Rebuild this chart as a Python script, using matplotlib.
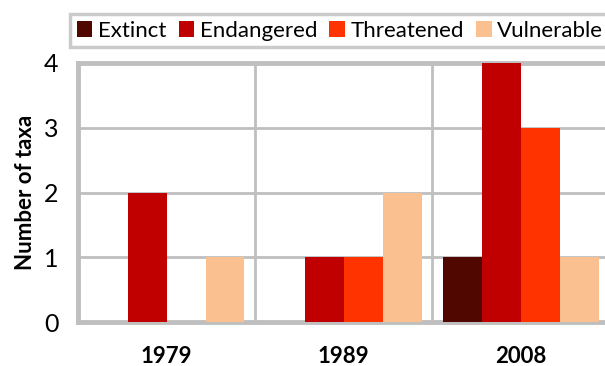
import numpy as np
import matplotlib
matplotlib.use("Agg")
import matplotlib.pyplot as plt

# 데이터
years = ["1979", "1989", "2008"]
categories = ["Extinct", "Endangered", "Threatened", "Vulnerable"]
extinct = [0, 0, 1]
endangered = [2, 1, 4]
threatened = [0, 1, 3]
vulnerable = [1, 2, 1]
colors = ["#4F0700", "#C00000", "#FF3300", "#FAC090"]

plt.rcParams['font.family'] = ['Lato', 'DejaVu Sans']

fig = plt.figure(figsize=(6.05, 3.66), dpi=100)
ax = fig.add_axes([0.129, 0.120, 0.878, 0.708])

x = np.arange(len(years))
width = 0.22
series = [extinct, endangered, threatened, vulnerable]
for i, (vals, name, c) in enumerate(zip(series, categories, colors)):
    ax.bar(x + (i - 1.5) * width, vals, width, color=c, label=name, zorder=3)

ax.set_xlim(-0.5, 2.5)
ax.set_ylim(0, 4)
ax.set_yticks([0, 1, 2, 3, 4])
ax.set_xticks(x)
ax.set_xticklabels(years, fontsize=16, fontweight='bold')
ax.tick_params(axis='x', length=0, pad=17)
ax.tick_params(axis='y', length=0, pad=14, labelsize=18)
ax.set_ylabel("Number of taxa", fontsize=16, fontweight='bold', labelpad=6)

# 그리드 (카테고리 경계)
ax.set_xticks([0.5, 1.5], minor=True)
ax.grid(True, which='minor', axis='x', color='#BFBFBF', lw=2, zorder=0)
ax.grid(True, which='major', axis='y', color='#BFBFBF', lw=2, zorder=0)
ax.tick_params(axis='x', which='minor', length=0)

for s in ax.spines.values():
    s.set_color('#BFBFBF')
    s.set_linewidth(3.5)

leg = fig.legend(loc='upper left', bbox_to_anchor=(0.116, 0.962), ncol=4,
                 fontsize=16, frameon=True, fancybox=False, handlelength=0.7,
                 handleheight=0.7, handletextpad=0.25, columnspacing=0.55,
                 borderpad=0.3, borderaxespad=0)
leg.get_frame().set_edgecolor('#BFBFBF')
leg.get_frame().set_linewidth(2.5)

fig.savefig("out.png", dpi=100)
